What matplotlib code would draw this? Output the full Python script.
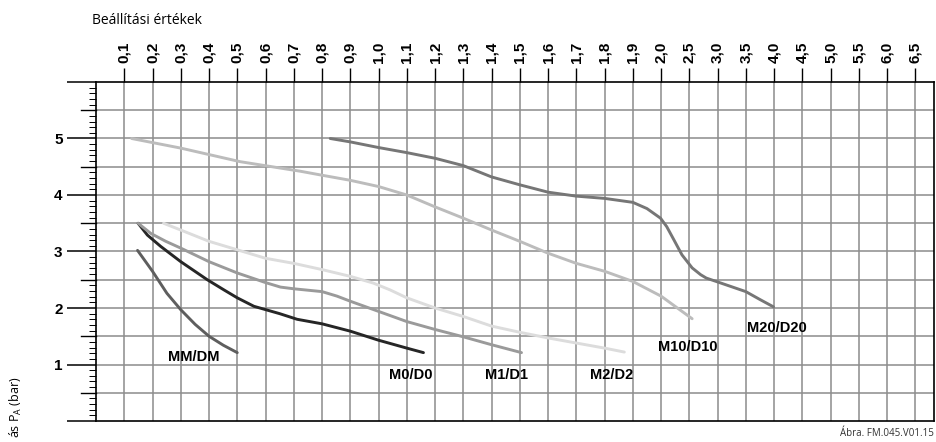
import matplotlib
matplotlib.use("Agg")
import matplotlib.pyplot as plt
from matplotlib.ticker import MultipleLocator

# setting scale (top axis), equally spaced positions 1..29
setting_labels = ["0,1", "0,2", "0,3", "0,4", "0,5", "0,6", "0,7", "0,8", "0,9", "1,0",
                  "1,1", "1,2", "1,3", "1,4", "1,5", "1,6", "1,7", "1,8", "1,9", "2,0",
                  "2,5", "3,0", "3,5", "4,0", "4,5", "5,0", "5,5", "6,0", "6,5"]
y_labels = ["1", "2", "3", "4", "5"]

# curves: x = position on the setting scale, y = pressure (bar)
mm_x = [1.47, 2.0, 2.51, 3.0, 3.51, 4.0, 4.51, 5.0]
mm_y = [3.02, 2.65, 2.26, 1.97, 1.71, 1.5, 1.34, 1.21]

m0_x = [1.49, 1.82, 2.29, 3.0, 3.94, 4.53, 5.0, 5.59, 6.5, 7.12, 8.0, 9.0, 10.0, 11.0, 11.59]
m0_y = [3.5, 3.29, 3.09, 2.82, 2.5, 2.32, 2.18, 2.03, 1.9, 1.8, 1.72, 1.59, 1.43, 1.29, 1.21]

m1_x = [1.49, 1.94, 2.47, 3.0, 4.0, 5.0, 6.0, 6.53, 7.0, 8.0, 8.53, 9.0, 10.0, 11.0, 12.0,
        13.0, 14.0, 15.06]
m1_y = [3.5, 3.32, 3.18, 3.06, 2.82, 2.62, 2.45, 2.37, 2.34, 2.29, 2.21, 2.12, 1.94, 1.76, 1.62,
        1.49, 1.35, 1.21]

m2_x = [2.39, 3.0, 4.0, 5.0, 6.0, 7.0, 8.0, 9.0, 9.82, 10.41, 11.0, 12.0, 13.0, 14.0, 15.0,
        16.0, 17.0, 18.0, 18.7]
m2_y = [3.5, 3.38, 3.18, 3.03, 2.88, 2.79, 2.68, 2.56, 2.44, 2.32, 2.18, 2.0, 1.85, 1.68, 1.57,
        1.47, 1.38, 1.29, 1.22]

m10_x = [1.26, 3.0, 5.1, 7.24, 8.0, 9.0, 10.0, 11.0, 12.0, 13.0, 14.0, 15.0, 16.0, 17.0,
         18.0, 19.0, 20.0, 21.1]
m10_y = [5.0, 4.83, 4.59, 4.42, 4.35, 4.26, 4.15, 4.0, 3.79, 3.59, 3.38, 3.18, 2.97, 2.79,
         2.65, 2.47, 2.21, 1.81]

m20_x = [8.29, 9.0, 10.0, 11.0, 12.0, 13.0, 14.0, 15.0, 16.0, 17.0, 18.0, 19.0, 19.5, 19.98,
         20.2, 20.45, 20.74, 21.1, 21.4, 21.6, 22.3, 23.0, 23.5, 23.98]
m20_y = [5.0, 4.94, 4.84, 4.75, 4.65, 4.52, 4.32, 4.18, 4.05, 3.98, 3.94, 3.87, 3.76, 3.59,
         3.44, 3.21, 2.94, 2.71, 2.59, 2.53, 2.41, 2.29, 2.15, 2.02]

curve_names = ["MM/DM", "M0/D0", "M1/D1", "M2/D2", "M10/D10", "M20/D20"]
curve_colors = ["#5e5e5e", "#262626", "#9a9a9a", "#dcdcdc", "#bcbcbc", "#767676"]
label_x = [3.47, 11.13, 14.54, 18.26, 20.96, 24.11]
label_y = [1.13, 0.81, 0.81, 0.81, 1.31, 1.65]

fig = plt.figure(figsize=(9.36, 4.42), dpi=100)
ax = fig.add_axes([96 / 936, 1 - 421 / 442, 838 / 936, 339 / 442])

ax.set_xlim(0, 29.66)
ax.set_ylim(0, 6)

# grid
for i in range(1, len(setting_labels) + 1):
    ax.axvline(i, color="#8c8c8c", lw=1.1, zorder=1)
for v in [0.5, 1, 1.5, 2, 2.5, 3, 3.5, 4, 4.5, 5, 5.5]:
    ax.axhline(v, color="#8c8c8c", lw=1.1, zorder=1)

curves = [(mm_x, mm_y), (m0_x, m0_y), (m1_x, m1_y), (m2_x, m2_y), (m10_x, m10_y), (m20_x, m20_y)]
for (xs, ys), name, col, lx, ly in zip(curves, curve_names, curve_colors, label_x, label_y):
    ax.plot(xs, ys, color=col, lw=2.1, solid_capstyle="round", solid_joinstyle="round", zorder=3)
    ax.text(lx, ly, name, ha="center", va="center", fontsize=10.5, fontweight="bold",
            family="Liberation Sans", zorder=4)

for s in ax.spines.values():
    s.set_color("black")
    s.set_linewidth(1.2)

# top axis
ax.xaxis.tick_top()
ax.set_xticks(range(1, len(setting_labels) + 1))
ax.set_xticklabels(setting_labels, rotation=90, fontsize=11, fontweight="bold",
                   family="Liberation Sans")
ax.tick_params(axis="x", which="major", direction="out", length=10, width=1, pad=4,
               top=True, bottom=False, labeltop=True, labelbottom=False)

# left axis
ax.set_yticks(range(0, 7))
ax.set_yticklabels([""] + y_labels + [""], fontsize=11, fontweight="bold",
                   family="Liberation Sans")
ax.yaxis.set_minor_locator(MultipleLocator(0.1))
ax.tick_params(axis="y", which="major", direction="out", length=21, width=1.1, pad=3)
ax.tick_params(axis="y", which="minor", direction="out", length=5, width=0.7)
ytr = ax.get_yaxis_transform()
for v in [0.5, 1.5, 2.5, 3.5, 4.5, 5.5]:
    ax.plot([-15 / 838, 0], [v, v], color="black", lw=1.0, transform=ytr, clip_on=False)

fig.text(92 / 936, 1 - 20 / 442, "Beállítási értékek", ha="left", va="center",
         fontsize=10, family="Open Sans")
fig.text(16 / 936, 1 - 377 / 442, "ás P$_\\mathregular{A}$ (bar)", rotation=90,
         ha="center", va="top", fontsize=9, family="Open Sans")
fig.text(934 / 936, 1 - 434 / 442, "Ábra. FM.045.V01.15", ha="right", va="center",
         fontsize=7, family="Open Sans", color="#333333")

fig.savefig("out.png", dpi=100)
